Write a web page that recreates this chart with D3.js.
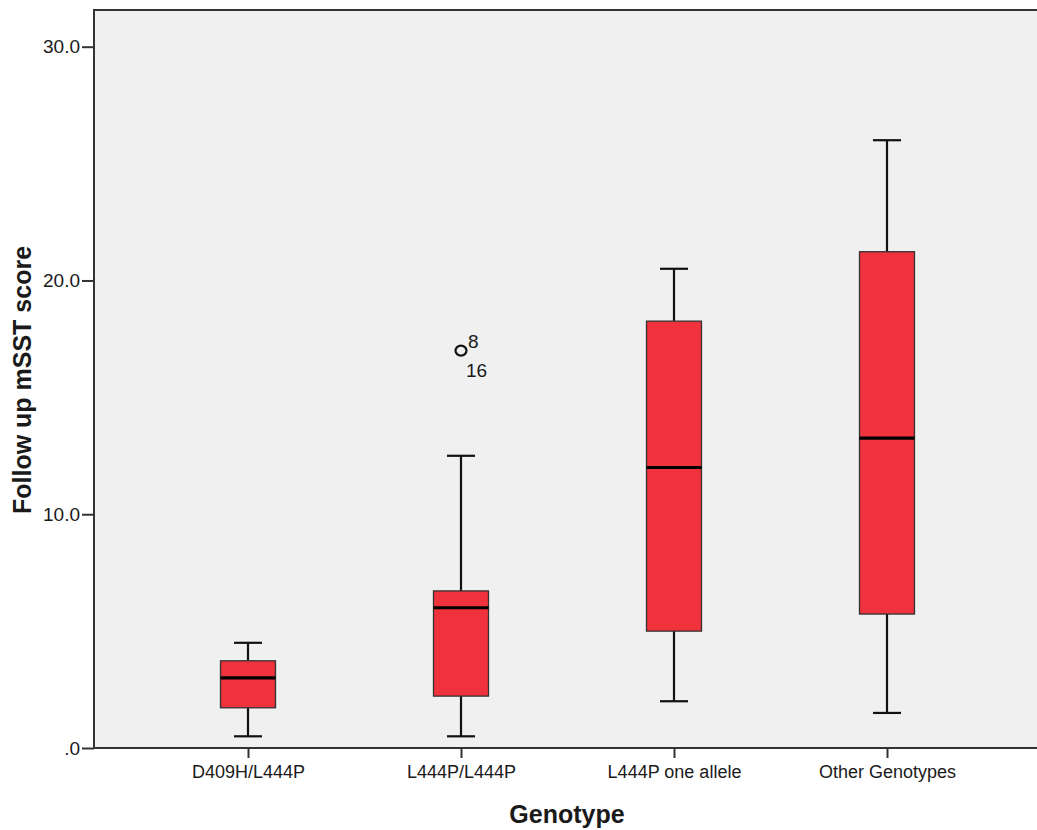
<!DOCTYPE html>
<html>
<head>
<meta charset="utf-8">
<script src="https://cdn.jsdelivr.net/npm/d3@7"></script>
<style>
  html, body { margin: 0; padding: 0; background: #ffffff; }
  svg { display: block; }
  text { font-family: "Liberation Sans", Arial, sans-serif; fill: #1a1a1a; }
</style>
</head>
<body>
<svg id="chart" width="1037" height="830"></svg>
<script>
// Genotype groups and their box-plot statistics (Follow up mSST score)
const categories = ["D409H/L444P", "L444P/L444P", "L444P one allele", "Other Genotypes"];
const whiskerLow = [0.5, 0.5, 2.0, 1.5];
const q1 = [1.72, 2.22, 5.0, 5.73];
const median = [3.0, 6.0, 12.0, 13.26];
const q3 = [3.73, 6.72, 18.26, 21.23];
const whiskerHigh = [4.5, 12.5, 20.5, 26.0];

// Outliers: group, value, case ids
const outlierGroups = ["L444P/L444P"];
const outlierValues = [17.0];
const outlierIds = [["8", "16"]];

const yTicks = [0, 10, 20, 30];

const svg = d3.select("#chart");
const plot = { left: 94, top: 10, right: 1041, bottom: 748 };

const x = d3.scalePoint()
  .domain(categories)
  .range([plot.left, plot.right])
  .padding(0.723);

const y = d3.scaleLinear()
  .domain([0, 31.57])
  .range([plot.bottom, plot.top]);

// plot background
svg.append("rect")
  .attr("x", plot.left).attr("y", plot.top)
  .attr("width", plot.right - plot.left).attr("height", plot.bottom - plot.top)
  .attr("fill", "#f0f0f0");

const boxW = 55, capW = 28;
const boxes = categories.map((c, i) => ({
  c, lo: whiskerLow[i], q1: q1[i], med: median[i], q3: q3[i], hi: whiskerHigh[i]
}));

const g = svg.append("g");
const bx = g.selectAll("g.box").data(boxes).join("g").attr("class", "box");

// whisker stems
bx.append("line")
  .attr("x1", d => x(d.c)).attr("x2", d => x(d.c))
  .attr("y1", d => y(d.hi)).attr("y2", d => y(d.q3))
  .attr("stroke", "#111").attr("stroke-width", 2.2);
bx.append("line")
  .attr("x1", d => x(d.c)).attr("x2", d => x(d.c))
  .attr("y1", d => y(d.q1)).attr("y2", d => y(d.lo))
  .attr("stroke", "#111").attr("stroke-width", 2.2);
// whisker caps
bx.append("line")
  .attr("x1", d => x(d.c) - capW / 2).attr("x2", d => x(d.c) + capW / 2)
  .attr("y1", d => y(d.hi)).attr("y2", d => y(d.hi))
  .attr("stroke", "#111").attr("stroke-width", 2.2);
bx.append("line")
  .attr("x1", d => x(d.c) - capW / 2).attr("x2", d => x(d.c) + capW / 2)
  .attr("y1", d => y(d.lo)).attr("y2", d => y(d.lo))
  .attr("stroke", "#111").attr("stroke-width", 2.2);
// boxes
bx.append("rect")
  .attr("x", d => x(d.c) - boxW / 2).attr("width", boxW)
  .attr("y", d => y(d.q3)).attr("height", d => y(d.q1) - y(d.q3))
  .attr("fill", "#ef323c").attr("stroke", "#333").attr("stroke-width", 1.3);
// medians
bx.append("line")
  .attr("x1", d => x(d.c) - boxW / 2).attr("x2", d => x(d.c) + boxW / 2)
  .attr("y1", d => y(d.med)).attr("y2", d => y(d.med))
  .attr("stroke", "#000").attr("stroke-width", 3.2);

// outliers with case labels
outlierGroups.forEach((grp, i) => {
  const cx = x(grp), cy = y(outlierValues[i]);
  g.append("ellipse")
    .attr("cx", cx).attr("cy", cy).attr("rx", 5.5).attr("ry", 5)
    .attr("fill", "none").attr("stroke", "#111").attr("stroke-width", 2.2);
  g.append("text").attr("x", cx + 7).attr("y", cy - 3)
    .attr("font-size", 19).text(outlierIds[i][0]);
  g.append("text").attr("x", cx + 5).attr("y", cy + 26)
    .attr("font-size", 19).text(outlierIds[i][1]);
});

// frame
svg.append("rect")
  .attr("x", plot.left).attr("y", plot.top)
  .attr("width", plot.right - plot.left).attr("height", plot.bottom - plot.top)
  .attr("fill", "none").attr("stroke", "#333").attr("stroke-width", 2);

// y axis
const yAxis = svg.append("g")
  .attr("transform", `translate(${plot.left},0)`)
  .call(d3.axisLeft(y).tickValues(yTicks).tickSize(12).tickPadding(2)
    .tickFormat(d => d === 0 ? ".0" : d3.format(".1f")(d)));
yAxis.select(".domain").remove();
yAxis.selectAll(".tick line").attr("stroke", "#333").attr("stroke-width", 2);
yAxis.selectAll(".tick text")
  .attr("font-size", 19).attr("font-family", "Liberation Sans, Arial, sans-serif")
  .attr("fill", "#1a1a1a");

// x axis
const xAxis = svg.append("g")
  .attr("transform", `translate(0,${plot.bottom})`)
  .call(d3.axisBottom(x).tickSize(10).tickPadding(7));
xAxis.select(".domain").remove();
xAxis.selectAll(".tick line").attr("stroke", "#333").attr("stroke-width", 2);
xAxis.selectAll(".tick text")
  .attr("font-size", 18).attr("font-family", "Liberation Sans, Arial, sans-serif")
  .attr("fill", "#1a1a1a");

// axis titles
svg.append("text")
  .attr("x", 567).attr("y", 823)
  .attr("text-anchor", "middle")
  .attr("font-size", 25).attr("font-weight", "bold")
  .text("Genotype");
svg.append("text")
  .attr("transform", "translate(31,380) rotate(-90)")
  .attr("text-anchor", "middle")
  .attr("font-size", 25).attr("font-weight", "bold")
  .text("Follow up mSST score");
</script>
</body>
</html>
